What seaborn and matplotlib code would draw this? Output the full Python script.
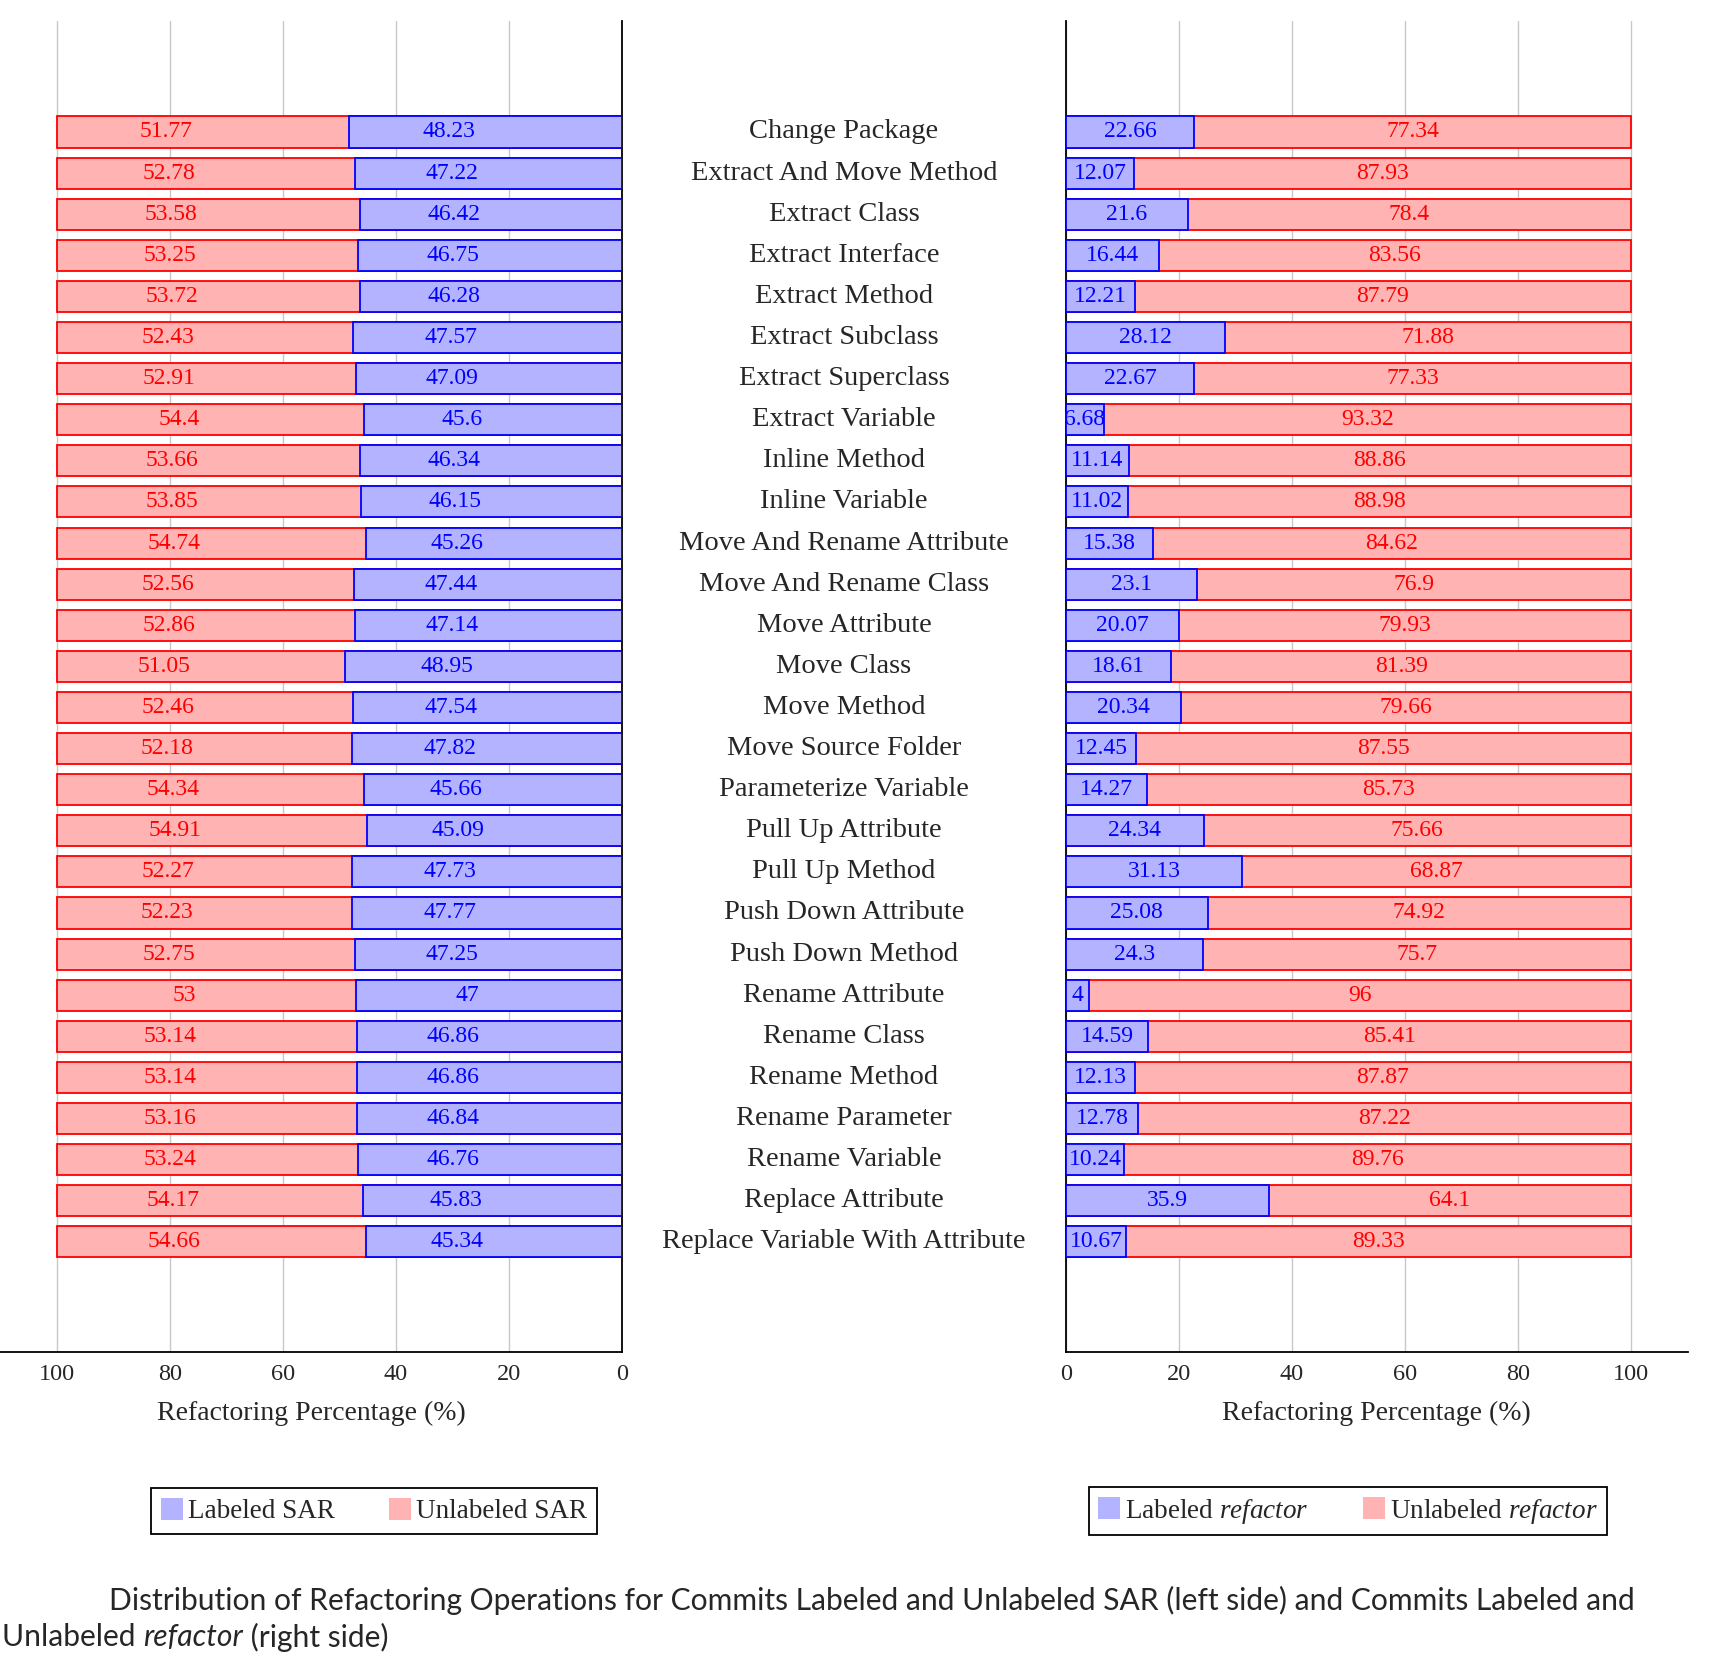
import pandas as pd
import seaborn as sns
import matplotlib.pyplot as plt
import matplotlib.transforms as mtransforms
from matplotlib.patches import Patch

categories = [
    "Change Package", "Extract And Move Method", "Extract Class", "Extract Interface",
    "Extract Method", "Extract Subclass", "Extract Superclass", "Extract Variable",
    "Inline Method", "Inline Variable", "Move And Rename Attribute", "Move And Rename Class",
    "Move Attribute", "Move Class", "Move Method", "Move Source Folder",
    "Parameterize Variable", "Pull Up Attribute", "Pull Up Method", "Push Down Attribute",
    "Push Down Method", "Rename Attribute", "Rename Class", "Rename Method",
    "Rename Parameter", "Rename Variable", "Replace Attribute", "Replace Variable With Attribute",
]
labeled_sar = [48.23, 47.22, 46.42, 46.75, 46.28, 47.57, 47.09, 45.6, 46.34, 46.15, 45.26, 47.44,
               47.14, 48.95, 47.54, 47.82, 45.66, 45.09, 47.73, 47.77, 47.25, 47, 46.86, 46.86,
               46.84, 46.76, 45.83, 45.34]
unlabeled_sar = [51.77, 52.78, 53.58, 53.25, 53.72, 52.43, 52.91, 54.4, 53.66, 53.85, 54.74, 52.56,
                 52.86, 51.05, 52.46, 52.18, 54.34, 54.91, 52.27, 52.23, 52.75, 53, 53.14, 53.14,
                 53.16, 53.24, 54.17, 54.66]
labeled_refactor = [22.66, 12.07, 21.6, 16.44, 12.21, 28.12, 22.67, 6.68, 11.14, 11.02, 15.38, 23.1,
                    20.07, 18.61, 20.34, 12.45, 14.27, 24.34, 31.13, 25.08, 24.3, 4, 14.59, 12.13,
                    12.78, 10.24, 35.9, 10.67]
unlabeled_refactor = [77.34, 87.93, 78.4, 83.56, 87.79, 71.88, 77.33, 93.32, 88.86, 88.98, 84.62, 76.9,
                      79.93, 81.39, 79.66, 87.55, 85.73, 75.66, 68.87, 74.92, 75.7, 96, 85.41, 87.87,
                      87.22, 89.76, 64.1, 89.33]
ticks = [0, 20, 40, 60, 80, 100]

BLUE_FILL, RED_FILL = "#b3b3ff", "#ffb3b3"
SERIF = "Liberation Serif"

sns.set_theme(style="white")
plt.rcParams["font.family"] = [SERIF, "DejaVu Serif"]
plt.rcParams["mathtext.fontset"] = "custom"
plt.rcParams["mathtext.rm"] = SERIF
plt.rcParams["mathtext.it"] = SERIF + ":italic"

fig = plt.figure(figsize=(17.18, 16.59), dpi=100)
W, H = 1718, 1659
TOP, BOTTOM = 21, 1352
ax_l = fig.add_axes([0 / W, 1 - BOTTOM / H, 622 / W, (BOTTOM - TOP) / H])
ax_r = fig.add_axes([1066 / W, 1 - BOTTOM / H, 621.5 / W, (BOTTOM - TOP) / H])


def put_label(ax, x, y, txt, color, mirrored):
    if mirrored:
        # the reversed panel has its numbers right-aligned a bit left of the segment centre
        ax.annotate(txt, xy=(x, y), xytext=(-7.5, 0), textcoords="offset points",
                    color=color, ha="right", va="center", fontsize=17, zorder=4)
    else:
        ax.text(x, y, txt, color=color, ha="center", va="center", fontsize=17, zorder=4)


def draw_side(ax, labeled, unlabeled, mirrored):
    df = pd.DataFrame({"category": categories, "labeled": labeled,
                       "total": [a + b for a, b in zip(labeled, unlabeled)]})
    # full bar in red, then labeled part in blue over it
    sns.barplot(data=df, y="category", x="total", order=categories, orient="h", ax=ax,
                color=RED_FILL, saturation=1, width=0.755, edgecolor="red", linewidth=1.3, zorder=2)
    sns.barplot(data=df, y="category", x="labeled", order=categories, orient="h", ax=ax,
                color=BLUE_FILL, saturation=1, width=0.755, edgecolor="blue", linewidth=1.3, zorder=3)
    for i, (a, b) in enumerate(zip(labeled, unlabeled)):
        put_label(ax, a / 2, i, f"{a:g}", "blue", mirrored)
        put_label(ax, a + b / 2, i, f"{b:g}", "red", mirrored)

    ax.set_ylim(27 + 2.68, -2.7)
    if mirrored:
        ax.set_xlim(110, 0)
        ax.spines["left"].set_visible(False)
        ax.spines["right"].set_visible(True)
    else:
        ax.set_xlim(0, 110)
        ax.spines["right"].set_visible(False)
    ax.spines["top"].set_visible(False)
    for s in ("left", "right", "bottom"):
        ax.spines[s].set_color("black")
        ax.spines[s].set_linewidth(1.3)
    ax.set_xticks(ticks)
    ax.set_xticklabels([str(t) for t in ticks], fontsize=17.5)
    ax.set_yticks([])
    ax.set_ylabel("")
    ax.set_xlabel("Refactoring Percentage (%)", fontsize=20, labelpad=11)
    ax.tick_params(axis="x", length=0, pad=9)
    ax.grid(axis="x", color="#c8c8c8", linewidth=1)
    ax.set_axisbelow(True)


draw_side(ax_l, labeled_sar, unlabeled_sar, mirrored=True)
draw_side(ax_r, labeled_refactor, unlabeled_refactor, mirrored=False)

# category names between both panels
trans = mtransforms.blended_transform_factory(fig.transFigure, ax_r.transData)
for i, name in enumerate(categories):
    fig.text(844 / W, i, name, transform=trans, ha="center", va="center", fontsize=20.5)

# legends
leg_kw = dict(ncol=2, fontsize=19.5, frameon=True, fancybox=False, edgecolor="black", framealpha=1,
              handlelength=0.8, handleheight=0.9, handletextpad=0.2, columnspacing=2.0,
              borderpad=0.35, borderaxespad=0, loc="center")
h1 = [Patch(facecolor=BLUE_FILL, edgecolor="none"), Patch(facecolor=RED_FILL, edgecolor="none")]
h2 = [Patch(facecolor=BLUE_FILL, edgecolor="none"), Patch(facecolor=RED_FILL, edgecolor="none")]
lg1 = fig.legend(h1, ["Labeled SAR", "Unlabeled SAR"], bbox_to_anchor=(374 / W, 1 - 1511 / H), **leg_kw)
lg2 = fig.legend(h2, [r"Labeled $\mathit{refactor}$", r"Unlabeled $\mathit{refactor}$"],
                 bbox_to_anchor=(1348 / W, 1 - 1511 / H), **leg_kw)
for lg in (lg1, lg2):
    lg.get_frame().set_linewidth(1.3)

# caption
cap_font = ["Lato", "DejaVu Sans"]
CAP = 21.6
fig.text(109 / W, 1 - 1600 / H,
         "Distribution of Refactoring Operations for Commits Labeled and Unlabeled SAR (left side) "
         "and Commits Labeled and", ha="left", va="center", fontsize=CAP, family=cap_font)
t1 = fig.text(2 / W, 1 - 1637 / H, "Unlabeled ", ha="left", va="center", fontsize=CAP, family=cap_font)
fig.canvas.draw()
x2 = fig.transFigure.inverted().transform((t1.get_window_extent().x1, 0))[0]
t2 = fig.text(x2, 1 - 1637 / H, "refactor", ha="left", va="center", fontsize=CAP,
              family=cap_font, style="italic")
fig.canvas.draw()
x3 = fig.transFigure.inverted().transform((t2.get_window_extent().x1, 0))[0]
fig.text(x3, 1 - 1637 / H, " (right side)", ha="left", va="center", fontsize=CAP, family=cap_font)

fig.savefig("out.png", dpi=100)
